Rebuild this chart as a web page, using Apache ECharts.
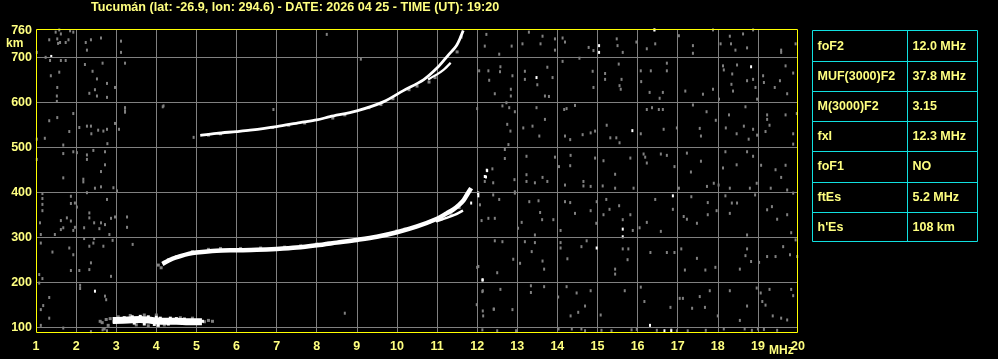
<!DOCTYPE html>
<html>
<head>
<meta charset="utf-8">
<script src="https://cdn.jsdelivr.net/npm/echarts@6/dist/echarts.min.js"></script>
<style>
html,body{margin:0;padding:0;background:#000;}
#chart{width:998px;height:359px;}
</style>
</head>
<body>
<div id="chart"></div>
<script>
// ---------- data ----------
const titleText = 'Tucumán (lat: -26.9, lon: 294.6) - DATE: 2026 04 25 - TIME (UT): 19:20';
const freqTicks = [1,2,3,4,5,6,7,8,9,10,11,12,13,14,15,16,17,18,19,20];
const heightTicks = [100,200,300,400,500,600,700,760];
const heightGrid = [100,200,300,400,500,600,700];

const tableNames = ['foF2','MUF(3000)F2','M(3000)F2','fxI','foF1','ftEs',"h'Es"];
const tableValues = ['12.0 MHz','37.8 MHz','3.15','12.3 MHz','NO','5.2 MHz','108 km'];

// F2 first-hop trace (white)
const f2Trace = [[4.2,243],[4.4,252],[4.6,258],[4.8,263],[5.0,266],[5.5,270],[6.0,271],[6.5,272],[7.0,274],[7.5,277],[8.0,282],[8.5,288],[9.0,294],[9.5,301],[10.0,311],[10.5,324],[11.0,341],[11.24,353],[11.41,362],[11.55,372],[11.66,382],[11.75,395],[11.82,405]];
const f2Branch = [[11.0,336],[11.24,343],[11.45,350],[11.62,358]];
const f2Fringe = [[4.3,250],[4.5,257],[4.9,268],[5.3,273],[5.6,275],[6.1,275],[6.6,276],[7.2,278],[7.6,281],[8.0,285],[8.3,287],[9.3,299],[10.0,314],[10.2,318],[10.8,333],[11.1,340],[11.35,350],[11.55,366],[4.05,238],[4.12,232]];
// F2 second-hop trace (white)
const f2Hop2 = [[5.13,527],[5.5,531],[6.0,535],[6.34,538],[7.0,546],[7.58,555],[8.0,561],[8.33,568],[9.0,581],[9.66,601],[10.16,626],[10.66,650],[11.03,679],[11.28,705],[11.49,727],[11.64,757]];
const f2Hop2Branch = [[10.8,652],[11.0,662],[11.16,672],[11.32,686]];
const f2Hop2Fringe = [[5.3,527],[5.6,530],[6.9,544],[7.3,549],[7.7,554],[8.4,565],[8.7,572],[9.3,588],[9.6,595],[9.9,608],[10.3,628],[10.5,636],[10.8,645],[10.95,655],[11.5,712],[11.6,745]];
// sporadic E (white band + grey fringe)
const esBand = [[3.0,115],[3.3,116],[3.6,117],[3.9,115],[4.2,113],[4.5,113],[4.8,112],[5.05,112]];
const esWhiteFringe = [[3.2,121],[3.4,123],[3.6,124],[3.8,123],[4.0,122],[4.1,120],[4.35,120],[4.5,119],[3.7,107],[3.95,106],[4.05,104],[4.3,107],[2.95,112],[5.15,113],[4.7,118],[3.45,109]];
const esGrayFringe = [[2.6,113],[2.65,110],[2.75,117],[2.85,119],[3.05,123],[3.35,126],[3.7,127],[4.0,127],[5.2,112],[5.3,115],[5.4,113],[4.6,121],[4.9,120],[3.5,105],[3.8,103],[4.2,105],[2.8,104],[2.7,96]];

// background noise (grey)
const noiseGray = [
[12.23,751],[12.19,725],[12.55,707],[12.86,725],[13.13,730],[13.29,756],[13.58,730],[13.63,747],[13.94,741],[13.94,716],[14.13,743],[14.19,734],[14.78,722],[14.9,715],[15.48,741],[15.5,726],[15.63,711],[15.97,734],[16.23,719],[16.42,761],[16.44,730],[17.03,748],[17.38,726],[17.38,709],[17.88,761],[18.07,730],[18.3,747],[18.33,730],[18.44,716],[18.63,752],[18.73,721],[18.88,761],[19.58,716],[19.94,730],[19.58,711],
[12.05,670],[12.28,670],[12.3,649],[12.58,679],[12.57,668],[12.88,659],[12.84,629],[12.84,614],[12.73,599],[12.44,619],[13.19,669],[13.19,651],[13.5,639],[13.75,678],[13.88,655],[13.69,614],[13.79,613],[14.13,691],[14.55,698],[14.88,669],[14.9,633],[15.19,664],[15.19,651],[15.53,685],[15.55,637],[15.58,629],[15.6,651],[16.08,670],[16.09,646],[16.33,670],[16.73,687],[16.73,670],[16.63,622],[16.3,622],[16.55,609],[17.19,625],[17.63,618],[17.88,629],[18.13,681],[18.15,672],[18.36,663],[18.48,683],[18.88,651],[18.94,633],[18.73,648],[18.34,640],[18.38,625],[19.13,659],[19.15,644],[19.42,633],[19.55,648],[19.69,681],[19.73,619],[19.88,665],[18.03,607],[18.98,607],
[12.0,586],[12.63,592],[12.8,588],[12.94,579],[12.75,551],[12.83,536],[12.78,506],[13.15,543],[13.38,547],[13.55,525],[13.69,562],[13.48,588],[14.17,584],[14.23,586],[14.44,593],[14.19,525],[14.32,517],[14.63,528],[14.83,532],[14.94,536],[15.23,549],[15.32,521],[15.47,521],[16.08,530],[15.55,510],[16.23,584],[16.36,588],[16.53,584],[16.63,584],[16.65,540],[16.98,543],[17.38,594],[17.55,542],[17.58,525],[17.72,579],[17.95,560],[18.28,572],[18.2,543],[18.47,530],[18.65,547],[18.69,590],[18.88,540],[18.77,518],[18.98,527],[19.23,572],[19.23,562],[19.29,549],[19.19,535],[19.88,530],[19.88,507],[19.69,572],[19.97,575],
[12.38,452],[12.69,495],[12.69,475],[13.23,480],[13.23,439],[12.93,428],[13.63,433],[13.94,478],[14.04,457],[14.33,482],[14.32,459],[14.94,476],[15.15,470],[15.44,440],[15.82,476],[16.15,485],[16.19,478],[16.23,465],[16.58,485],[16.73,482],[16.92,457],[17.23,487],[17.58,469],[17.33,445],[18.19,490],[18.47,461],[18.73,490],[18.88,480],[19.08,460],[19.44,450],[19.69,460],[19.58,433],[18.13,454],
[12.19,424],[12.4,421],[12.94,401],[13.23,424],[13.44,421],[13.75,424],[14.19,416],[14.65,424],[14.65,414],[14.83,413],[15.13,414],[15.44,409],[15.9,409],[17.03,409],[17.73,413],[17.9,420],[18.02,416],[18.3,409],[18.8,409],[18.97,420],[19.32,409],[19.73,405],
[12.4,394],[12.07,372],[12.44,342],[12.28,342],[12.11,337],[12.55,384],[12.94,398],[13.11,333],[13.02,320],[13.3,379],[13.53,381],[13.57,355],[13.62,339],[13.44,305],[13.9,339],[14.08,315],[14.19,379],[14.32,377],[14.44,353],[14.83,359],[14.97,331],[14.98,379],[15.22,384],[15.15,350],[15.3,362],[15.54,370],[15.63,339],[15.82,350],[15.88,315],[16.05,321],[16.23,333],[16.44,384],[16.58,313],[16.88,362],[17.15,346],[17.23,340],[17.34,390],[17.48,331],[17.75,377],[17.75,350],[17.97,359],[18.19,392],[18.3,353],[18.35,376],[18.48,376],[18.73,305],[18.93,394],[19.23,361],[19.35,368],[19.48,340],[19.73,350],[19.83,310],[19.88,398],
[12.44,292],[12.63,290],[12.9,251],[13.07,242],[13.19,290],[13.36,268],[13.44,288],[13.63,247],[13.67,229],[14.08,288],[14.08,276],[14.25,252],[14.6,279],[14.73,292],[15.44,229],[15.44,218],[15.63,274],[15.77,274],[15.75,250],[16.32,266],[16.73,266],[16.92,266],[17.09,274],[17.18,227],[17.48,253],[17.69,227],[17.94,233],[18.55,229],[18.73,274],[18.69,259],[18.83,246],[19.03,244],[19.23,257],[19.44,257],[19.63,279],[19.8,261],[19.94,294],[19.98,257],[12.0,233],[12.03,235],[12.5,221],
[12.13,179],[12.15,125],[12.58,184],[12.42,140],[12.88,139],[13.34,192],[13.34,177],[13.67,190],[14.02,167],[14.23,190],[14.48,176],[14.52,133],[14.83,181],[14.69,147],[14.33,125],[15.08,127],[15.68,181],[16.08,189],[16.17,157],[16.82,144],[17.05,164],[17.13,164],[17.36,142],[17.55,168],[17.8,181],[17.68,144],[18.0,125],[18.3,181],[18.55,115],[18.73,147],[18.97,187],[19.07,176],[19.11,157],[19.19,149],[19.29,184],[19.37,125],[19.58,120],[19.83,184],[19.88,170],[19.73,116],[12.14,181],[11.99,150],[12.14,136],[12.41,140],
[12.13,94],[12.5,92],[12.97,92],[14.03,96],[14.36,96],[14.6,96],[14.69,92],[15.1,93],[15.35,92],[15.85,94],[15.98,95],[16.48,93],[16.84,94],[16.98,92],[17.25,92],[17.7,93],[18.15,96],[18.67,96],[18.85,93],[19.0,96],[19.15,95],[19.48,93],
[1.58,761],[1.49,756],[1.62,752],[1.85,759],[1.93,756],[1.33,739],[1.53,741],[1.55,731],[1.6,733],[1.74,733],[1.81,739],[1.24,700],[1.35,693],[1.62,693],[1.74,693],[1.37,659],[1.53,633],[1.52,614],[1.52,602],[1.58,667],[1.02,711],[2.24,733],[2.37,739],[2.27,716],[2.62,743],[3.12,736],[3.12,711],[3.22,687],[2.66,687],[2.22,684],[2.41,669],[2.52,652],[2.77,642],[2.97,633],[2.47,628],[2.33,620],[2.52,614],[2.77,611],[3.22,588],[3.22,580],[4.18,592],
[1.33,559],[1.53,566],[1.93,575],[1.83,535],[1.22,520],[2.08,544],[2.27,547],[2.37,547],[2.55,538],[2.68,536],[2.77,540],[2.38,530],[2.97,553],[3.07,540],[2.78,508],[4.93,522],[1.02,518],[1.68,505],[1.02,473],[1.68,486],[1.93,490],[2.02,488],[2.27,483],[2.27,473],[2.43,493],[2.72,490],[2.72,461],[2.62,446],[2.18,429],[2.18,423],[1.68,432],[2.47,409],[2.62,412],[2.93,410],[3.02,403],[2.27,399],
[1.16,397],[1.16,386],[1.16,373],[1.16,359],[1.87,391],[1.87,375],[1.97,376],[2.02,367],[2.77,384],[2.33,354],[2.33,343],[2.45,332],[2.62,332],[2.72,328],[2.87,342],[2.97,345],[3.27,345],[3.27,322],[1.1,332],[1.12,306],[1.62,337],[1.77,343],[1.68,321],[1.87,336],[1.97,322],[1.93,315],[1.62,317],[1.47,306],[2.2,321],[2.58,319],[2.83,306],[2.91,293],[2.2,297],[2.45,297],[2.33,280],[2.43,287],[2.68,280],[3.41,284],[1.12,287],
[1.41,267],[1.83,276],[1.93,261],[2.37,243],[2.33,228],[2.08,226],[1.87,226],[2.87,213],[1.08,217],[1.16,208],[2.1,193],[2.1,186],[2.72,169],[2.75,161],[1.33,166],[1.18,148],[1.12,139],[1.33,120],[1.12,104],[1.68,98],[2.37,90],[2.66,94],[2.77,92],[1.08,198],
[8.7,131],[6.92,584],[8.25,751],[9.1,696],[4.16,590],[3.22,587],[3.22,578]
];
// background noise (white)
const noiseWhite = [[15.04,726],[15.04,711],[16.42,761],[13.48,655],[18.83,679],[15.87,537],[12.25,448],[12.19,435],[12.02,398],[12.03,392],[11.85,376],[15.63,318],[15.63,301],[16.88,392],[14.98,276],[12.13,205],[12.14,205],[1.38,702],[2.47,180],[16.31,104],[16.67,92],[16.84,92],[12.03,398],[12.24,449],[12.22,434]];

// ---------- chart ----------
const YEL = '#ffff80';
const FONT = 'Liberation Sans';
const chart = echarts.init(document.getElementById('chart'), null, {renderer: 'canvas'});

const graphics = [];
graphics.push({type:'text', left: 91, top: 1, style:{text: titleText, fill: YEL, font: 'bold 12.6px "Liberation Sans"'}});
graphics.push({type:'text', left: 6, top: 38, style:{text: 'km', fill: YEL, font: 'bold 12px "Liberation Sans"'}});
graphics.push({type:'text', left: 769, top: 345, style:{text: 'MHz', fill: YEL, font: 'bold 12px "Liberation Sans"'}});
// plot frame (bright yellow, crisp)
graphics.push({type:'rect', z: 100, silent: true, shape:{x:36.5, y:29.5, width:761, height:303}, style:{fill:'none', stroke:'#ffff00', lineWidth:1}});
// parameter table
const tX = 812.5, tY = 30.5, tW = 165, rowH = 30.2, colX = 907.5;
const tableChildren = [];
tableChildren.push({type:'rect', shape:{x:tX, y:tY, width:tW, height:Math.round(rowH*tableNames.length)}, style:{fill:'none', stroke:'#10e0e0', lineWidth:1}});
tableChildren.push({type:'line', shape:{x1:colX, y1:tY, x2:colX, y2:tY+Math.round(rowH*tableNames.length)}, style:{stroke:'#10e0e0', lineWidth:1}});
tableNames.forEach((n, i) => {
  if (i > 0) {
    const yy = Math.round(tY + rowH*i) + 0.5;
    tableChildren.push({type:'line', shape:{x1:tX, y1:yy, x2:tX+tW, y2:yy}, style:{stroke:'#10e0e0', lineWidth:1}});
  }
  tableChildren.push({type:'text', x: tX+5, y: tY + rowH*i + rowH/2 + 0.5, style:{text:n, fill:YEL, font:'bold 12.5px "Liberation Sans"', verticalAlign:'middle'}});
  tableChildren.push({type:'text', x: colX+5, y: tY + rowH*i + rowH/2 + 0.5, style:{text:tableValues[i], fill:YEL, font:'bold 12.5px "Liberation Sans"', verticalAlign:'middle'}});
});
graphics.push({type:'group', children: tableChildren});

const dot = (name, data, color, size, z) => ({
  name, type:'scatter', data, symbol:'rect', symbolSize:size, silent:true,
  itemStyle:{color, opacity:1}, z: z || 2, animation:false
});
const trace = (name, data, width, color, z) => ({
  name, type:'line', data, showSymbol:false, smooth:0.3, silent:true,
  lineStyle:{color: color || '#ffffff', width, cap:'square'}, z: z || 5, animation:false
});

chart.setOption({
  backgroundColor: '#000000',
  animation: false,
  textStyle: {fontFamily: FONT},
  grid: {left: 36, top: 29, width: 762, height: 304, show: false, containLabel: false},
  xAxis: {
    type: 'value', min: freqTicks[0], max: freqTicks[freqTicks.length-1], interval: 1,
    axisLine: {show: false}, axisTick: {show: false},
    splitLine: {show: true, showMinLine: false, showMaxLine: false, lineStyle: {color: '#808080', width: 1}},
    axisLabel: {color: YEL, fontWeight: 'bold', fontSize: 12.5, fontFamily: FONT, margin: 7,
      customValues: freqTicks}
  },
  yAxis: {
    type: 'value', min: 87, max: 763,
    axisLine: {show: false}, axisTick: {show: false}, splitLine: {show: false},
    axisLabel: {color: YEL, fontWeight: 'bold', fontSize: 12.5, fontFamily: FONT, margin: 4,
      customValues: heightTicks}
  },
  graphic: graphics,
  series: [
    {type:'scatter', data: [], silent:true, z:1,
      markLine: {silent:true, symbol:['none','none'], label:{show:false}, animation:false,
        lineStyle:{color:'#808080', width:1, type:'solid'},
        data: heightGrid.map(h => ({yAxis: h}))}},
    dot('noiseGray', noiseGray, '#808080', [2,3], 2),
    dot('noiseWhite', noiseWhite, '#ffffff', [2,3], 3),
    dot('esGray', esGrayFringe, '#808080', [3,3], 3),
    trace('esBand', esBand, 7),
    dot('esWhite', esWhiteFringe, '#ffffff', [3,3], 6),
    dot('f2Fringe', f2Fringe, '#808080', [3,3], 3),
    trace('f2', f2Trace, 4.5),
    trace('f2Branch', f2Branch, 2.5),
    dot('hop2Fringe', f2Hop2Fringe, '#808080', [3,3], 3),
    trace('hop2', f2Hop2, 2.8),
    trace('hop2Branch', f2Hop2Branch, 2.2)
  ]
});
</script>
</body>
</html>
